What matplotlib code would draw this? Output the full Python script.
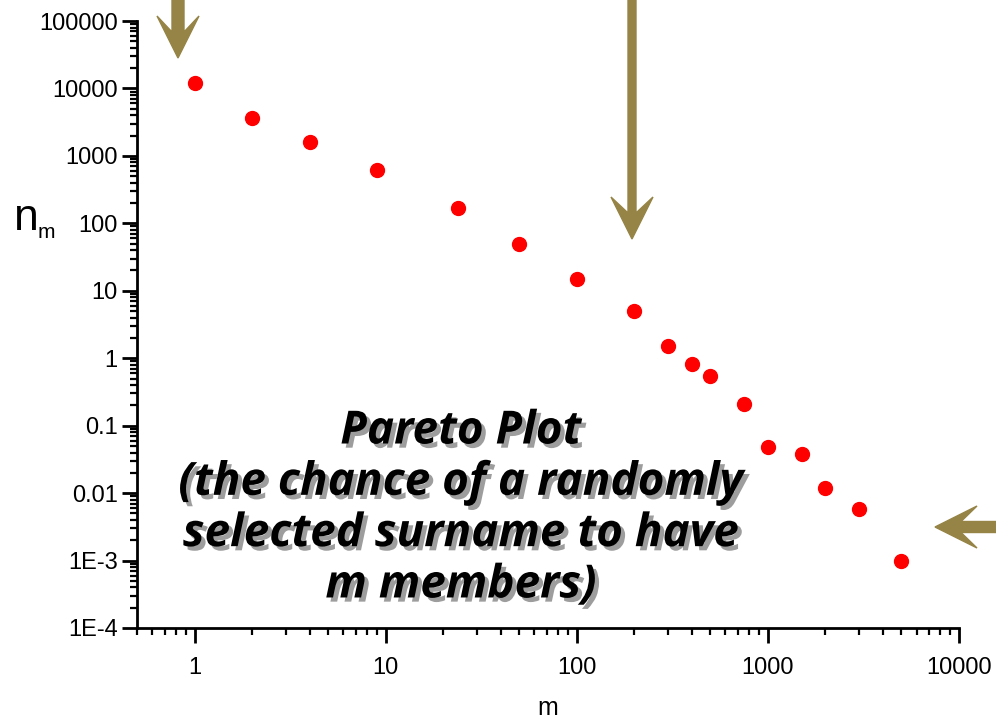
import matplotlib.pyplot as plt
import matplotlib.patheffects as pe
from matplotlib.patches import FancyArrow
from matplotlib.ticker import LogLocator, NullFormatter

# surname size m vs n_m
m_vals = [1, 2, 4, 9, 24, 50, 100, 200, 300, 400, 500, 750, 1000, 1500, 2000, 3000, 5000]
n_vals = [12000, 3600, 1600, 615, 170, 49, 14.8, 5.1, 1.5, 0.82, 0.54, 0.21,
          0.048, 0.038, 0.012, 0.0058, 0.00098]

y_ticks = [1e5, 1e4, 1e3, 1e2, 1e1, 1, 0.1, 0.01, 1e-3, 1e-4]
y_labels = ["100000", "10000", "1000", "100", "10", "1", "0.1", "0.01", "1E-3", "1E-4"]
x_ticks = [1, 10, 100, 1000, 10000]
x_labels = ["1", "10", "100", "1000", "10000"]

W, H = 996, 721
fig = plt.figure(figsize=(W / 100, H / 100), dpi=100)
ax = fig.add_axes([137 / W, (H - 628) / H, (959 - 137) / W, (628 - 21) / H])

ax.plot(m_vals, n_vals, 'o', color='#ff0000', markersize=10, clip_on=False)
ax.set_xscale('log')
ax.set_yscale('log')
ax.set_xlim(0.5, 10000)
ax.set_ylim(1e-4, 1e5)

ax.set_yticks(y_ticks, y_labels)
ax.set_xticks(x_ticks, x_labels)
ax.yaxis.set_minor_locator(LogLocator(base=10, subs=range(2, 10), numticks=20))
ax.xaxis.set_minor_locator(LogLocator(base=10, subs=range(2, 10), numticks=20))
ax.xaxis.set_minor_formatter(NullFormatter())
ax.yaxis.set_minor_formatter(NullFormatter())

for s in ['top', 'right']:
    ax.spines[s].set_visible(False)
for s in ['left', 'bottom']:
    ax.spines[s].set_linewidth(2)
ax.tick_params(which='major', direction='out', length=11, width=2,
               labelsize=17, pad=3)
ax.tick_params(which='minor', direction='out', length=5, width=1.6)
ax.tick_params(axis='x', which='major', pad=10)
for lab in ax.get_xticklabels() + ax.get_yticklabels():
    lab.set_family('Liberation Sans')

ax.set_xlabel("m", fontsize=18, family='Liberation Sans', labelpad=12)
fig.text(14 / W, 1 - 230 / H, "n", fontsize=32, family='Liberation Sans')
fig.text(38 / W, 1 - 238 / H, "m", fontsize=15, family='Liberation Sans')

txt = "Pareto Plot\n(the chance of a randomly\nselected surname to have\nm members)"
fig.text(461 / W, 1 - 508 / H, txt, ha='center', va='center', fontsize=33,
         family='Open Sans', weight='bold', style='italic', linespacing=1.12,
         path_effects=[pe.withSimplePatchShadow(offset=(3, -3), shadow_rgbFace='0.3', alpha=0.55)])

# arrows in figure pixels
acol = '#968446'
def arrow(x0, y0, x1, y1, w):
    # y given from top of image
    fig.patches.append(FancyArrow(x0 / 100, (H - y0) / 100, (x1 - x0) / 100, -(y1 - y0) / 100,
                                  width=w / 100, head_width=0.42, head_length=0.42,
                                  overhang=0.38, length_includes_head=True,
                                  color=acol, transform=fig.dpi_scale_trans))

arrow(178, -5, 178, 58, 12)
arrow(632, -5, 632, 239, 8)
arrow(1000, 527, 935, 527, 11)

fig.savefig('out.png', dpi=100)
